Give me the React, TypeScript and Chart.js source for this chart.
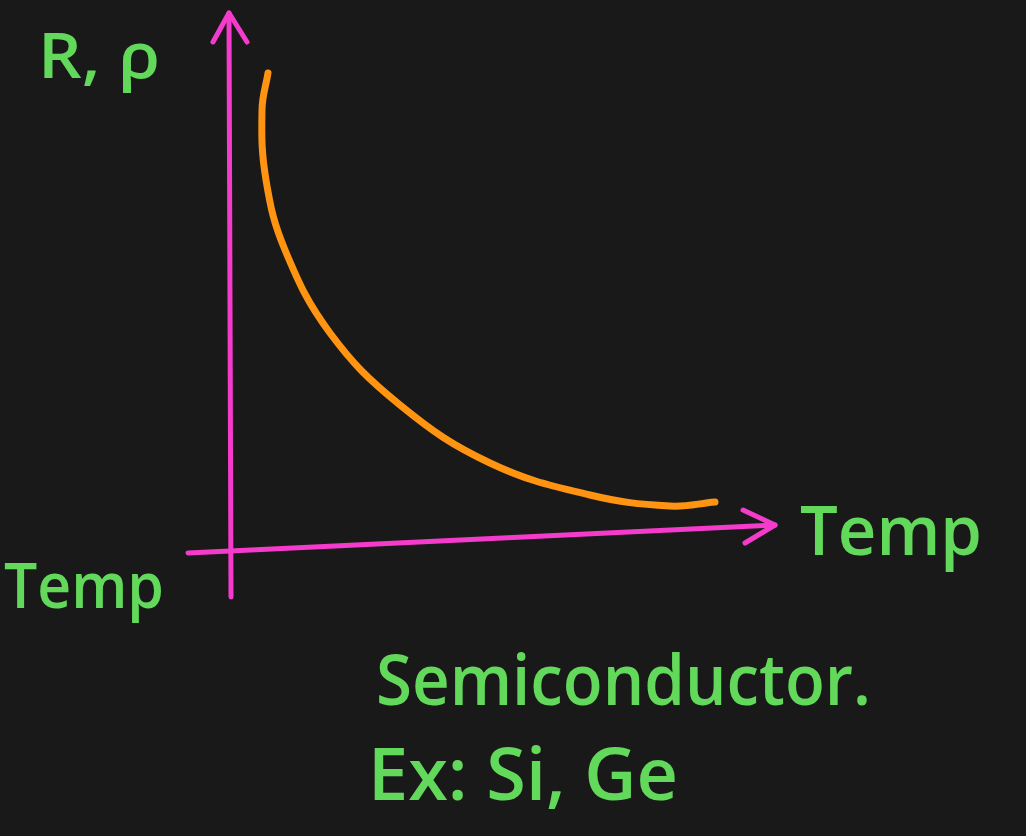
import React, { useEffect, useRef } from "react";
import { Chart, registerables } from "chart.js";

Chart.register(...registerables);

// Resistance / resistivity of a semiconductor falling as temperature rises.
// x: temperature, y: R / ρ (arbitrary units, origin where the axes cross)
const curveTemp = [38, 32, 36, 55, 100, 170, 260, 360, 440, 485];
const curveRes = [478, 441, 371, 301, 218, 146, 88, 56, 45, 49];

// Hand-drawn axes with their arrow heads
const yAxisTemp = [1, -1];
const yAxisRes = [-46, 538];
const yArrowTemp = [-17, -1, 17];
const yArrowRes = [509, 538, 509];
const xAxisTemp = [-42, 545];
const xAxisRes = [-2, 26];
const xArrowTemp = [513, 545, 515];
const xArrowRes = [41, 26, 8];

const labelTexts = ["R, ρ", "Temp", "Temp", "Semiconductor.", "Ex: Si, Ge"];

const BG = "#191919";
const PINK = "#f53bcb";
const ORANGE = "#ff9312";
const GREEN = "#62d95a";

const pts = (xs: number[], ys: number[]) => xs.map((x, i) => ({ x, y: ys[i] }));

// Text boxes: left, top of capitals, baseline, width
const labelBoxes = [
  { left: 38, top: 32, base: 78, width: 122 },
  { left: 800, top: 505, base: 555, width: 182 },
  { left: 4, top: 562, base: 608, width: 160 },
  { left: 376, top: 654, base: 705, width: 495 },
  { left: 368, top: 748, base: 800, width: 310 },
];

const handLabels = {
  id: "handLabels",
  beforeDraw(chart: any) {
    const ctx = chart.ctx;
    ctx.save();
    ctx.fillStyle = BG;
    ctx.fillRect(0, 0, chart.width, chart.height);
    ctx.restore();
  },
  afterDraw(chart: any) {
    const ctx = chart.ctx;
    ctx.save();
    ctx.fillStyle = GREEN;
    ctx.textBaseline = "alphabetic";
    labelTexts.forEach((t, i) => {
      const b = labelBoxes[i];
      const size = (b.base - b.top) / 0.72;
      ctx.font = `600 ${size}px "Open Sans"`;
      const w = ctx.measureText(t).width;
      const sx = b.width / w;
      ctx.save();
      ctx.translate(b.left, b.base);
      ctx.scale(sx, 1);
      ctx.fillText(t, 0, 0);
      ctx.restore();
    });
    ctx.restore();
  },
};

export default function App() {
  const ref = useRef<HTMLCanvasElement>(null);

  useEffect(() => {
    document.body.style.margin = "0";
    document.body.style.background = BG;
    const line = (data: any[], color: string, width: number, tension = 0) => ({
      data,
      showLine: true,
      borderColor: color,
      borderWidth: width,
      borderCapStyle: "round",
      borderJoinStyle: "round",
      pointRadius: 0,
      pointHoverRadius: 0,
      tension,
      fill: false,
    });
    const chart = new Chart(ref.current!, {
      type: "scatter",
      data: {
        datasets: [
          line(pts(yAxisTemp, yAxisRes), PINK, 5),
          line(pts(yArrowTemp, yArrowRes), PINK, 5),
          line(pts(xAxisTemp, xAxisRes), PINK, 5),
          line(pts(xArrowTemp, xArrowRes), PINK, 5),
          line(pts(curveTemp, curveRes), ORANGE, 7, 0.4),
        ] as any,
      },
      options: {
        animation: false,
        responsive: false,
        layout: { padding: 0 },
        plugins: { legend: { display: false }, tooltip: { enabled: false } },
        scales: {
          x: { type: "linear", min: -230, max: 796, display: false },
          y: { type: "linear", min: -285, max: 551, display: false },
        },
      },
      plugins: [handLabels],
    });
    return () => chart.destroy();
  }, []);

  return (
    <div style={{ position: "absolute", left: 0, top: 0, width: 1026, height: 836, background: BG }}>
      <canvas ref={ref} width={1026} height={836} />
    </div>
  );
}
